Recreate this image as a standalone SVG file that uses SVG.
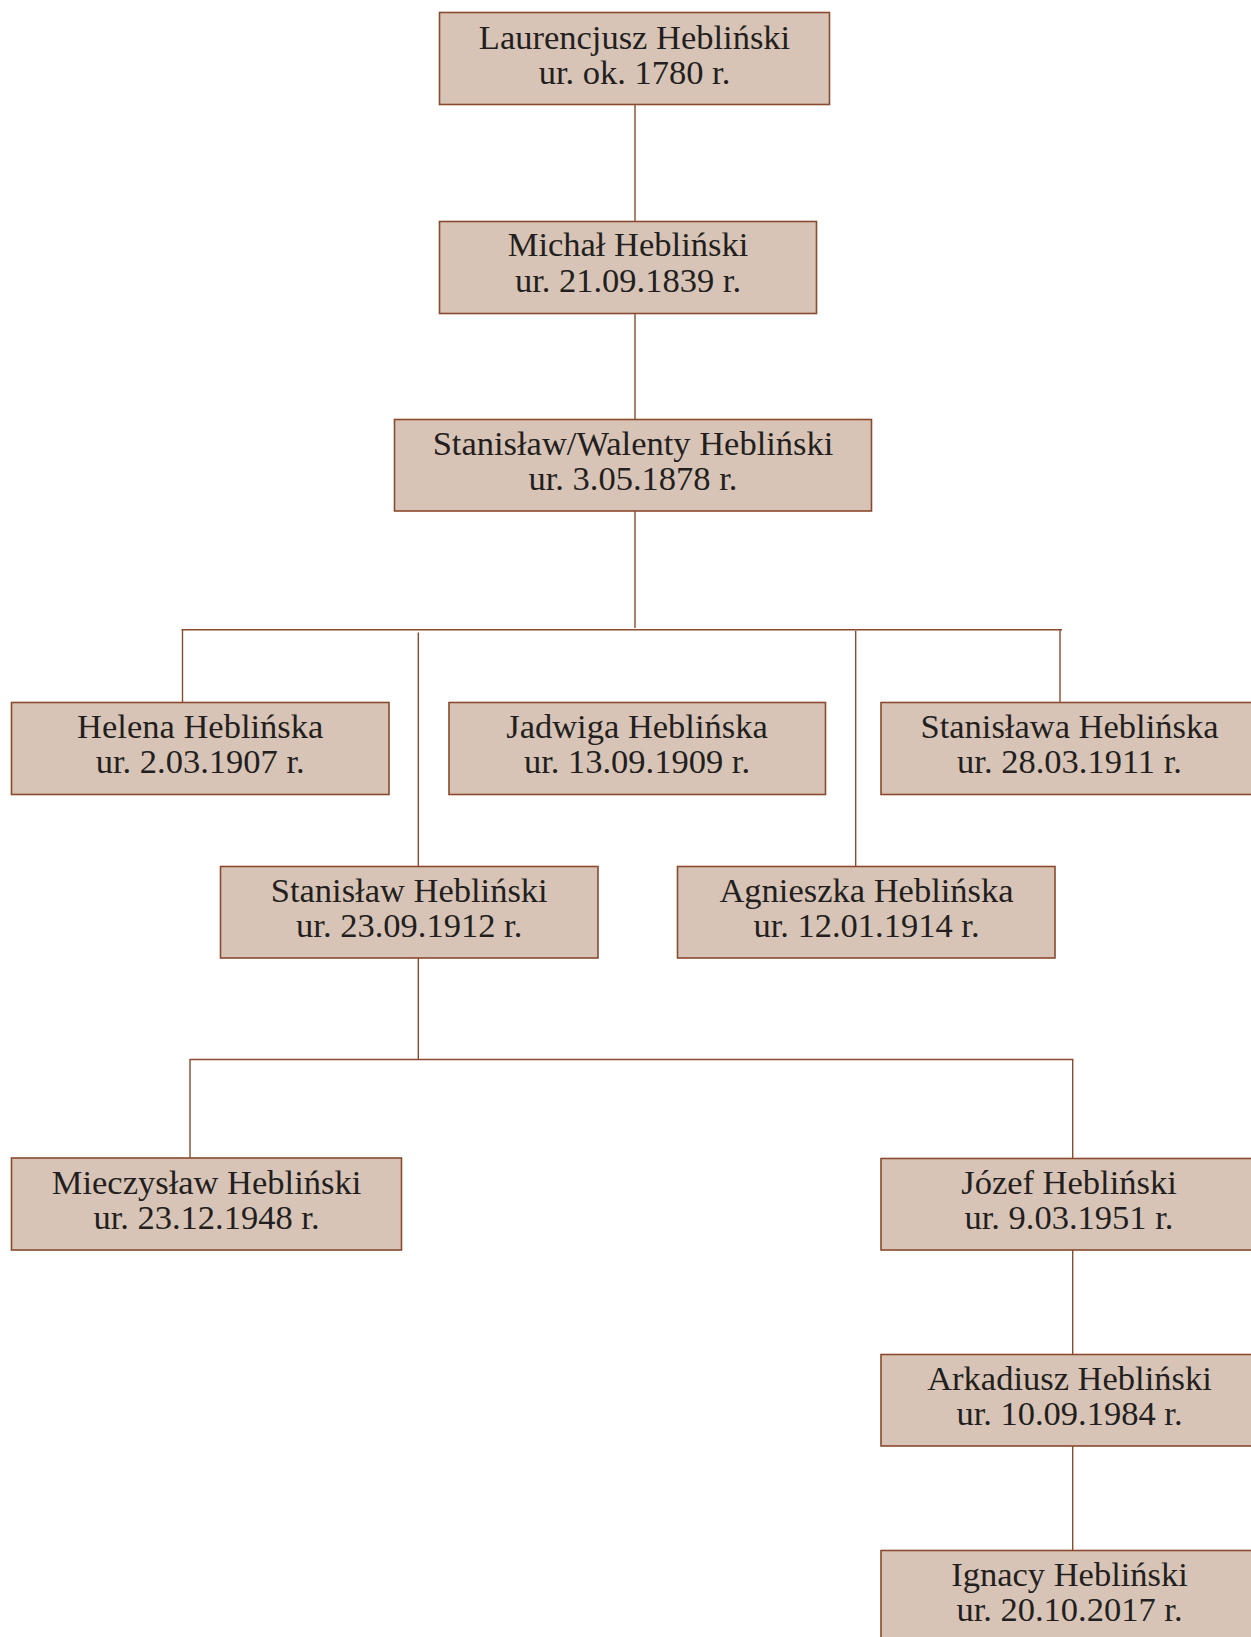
<svg xmlns="http://www.w3.org/2000/svg" width="1251" height="1637" viewBox="0 0 1251 1637">
<style>
.box{fill:#d8c4b6;stroke:#8a4a2e;stroke-width:1.6}
.t{font-family:"Liberation Serif","Times New Roman",serif;font-size:34.5px;fill:#231f20;text-anchor:middle}
.c{stroke:#8a4a2e;stroke-width:1.4;fill:none}
</style>
<rect width="1251" height="1637" fill="#ffffff"/>
<g id="connectors">
<line class="c" x1="635" y1="104.5" x2="635" y2="221.5"/>
<line class="c" x1="635" y1="313.5" x2="635" y2="419.5"/>
<line class="c" x1="635" y1="511" x2="635" y2="628"/>
<line class="c" x1="181.5" y1="629.7" x2="1062" y2="629.7"/>
<line class="c" x1="182.5" y1="630" x2="182.5" y2="702.5"/>
<line class="c" x1="418.3" y1="632.5" x2="418.3" y2="866.5"/>
<line class="c" x1="855.7" y1="630.7" x2="855.7" y2="866.5"/>
<line class="c" x1="1060" y1="630" x2="1060" y2="702.5"/>
<line class="c" x1="418.3" y1="958" x2="418.3" y2="1059.5"/>
<line class="c" x1="189.5" y1="1059.5" x2="1073.4" y2="1059.5"/>
<line class="c" x1="190" y1="1059.5" x2="190" y2="1158"/>
<line class="c" x1="1072.7" y1="1059.5" x2="1072.7" y2="1158.5"/>
<line class="c" x1="1072.7" y1="1250" x2="1072.7" y2="1354.5"/>
<line class="c" x1="1072.7" y1="1446" x2="1072.7" y2="1550.5"/>
</g>
<g id="laurencjusz">
<rect class="box" x="439.5" y="12.5" width="390" height="92"/>
<text class="t" x="634.5" y="48.5"><tspan x="634.5">Laurencjusz Hebliński</tspan><tspan x="634.5" y="83.5">ur. ok. 1780 r.</tspan></text>
</g>
<g id="michal">
<rect class="box" x="439.5" y="221.5" width="377" height="92"/>
<text class="t" x="628" y="256"><tspan x="628">Michał Hebliński</tspan><tspan x="628" y="291.5">ur. 21.09.1839 r.</tspan></text>
</g>
<g id="stanislaw-walenty">
<rect class="box" x="394.5" y="419.5" width="477" height="91.5"/>
<text class="t" x="633" y="455"><tspan x="633">Stanisław/Walenty Hebliński</tspan><tspan x="633" y="490">ur. 3.05.1878 r.</tspan></text>
</g>
<g id="helena">
<rect class="box" x="11.5" y="702.5" width="377.5" height="92"/>
<text class="t" x="200.2" y="738"><tspan x="200.2">Helena Heblińska</tspan><tspan x="200.2" y="773">ur. 2.03.1907 r.</tspan></text>
</g>
<g id="jadwiga">
<rect class="box" x="449" y="702.5" width="376.5" height="92"/>
<text class="t" x="637" y="738"><tspan x="637">Jadwiga Heblińska</tspan><tspan x="637" y="773">ur. 13.09.1909 r.</tspan></text>
</g>
<g id="stanislawa">
<rect class="box" x="881" y="702.5" width="377" height="92"/>
<text class="t" x="1069.5" y="738"><tspan x="1069.5">Stanisława Heblińska</tspan><tspan x="1069.5" y="773">ur. 28.03.1911 r.</tspan></text>
</g>
<g id="stanislaw">
<rect class="box" x="220.5" y="866.5" width="377.5" height="91.5"/>
<text class="t" x="409.2" y="902"><tspan x="409.2">Stanisław Hebliński</tspan><tspan x="409.2" y="937">ur. 23.09.1912 r.</tspan></text>
</g>
<g id="agnieszka">
<rect class="box" x="677.5" y="866.5" width="377.5" height="91.5"/>
<text class="t" x="866.5" y="902"><tspan x="866.5">Agnieszka Heblińska</tspan><tspan x="866.5" y="937">ur. 12.01.1914 r.</tspan></text>
</g>
<g id="mieczyslaw">
<rect class="box" x="11.5" y="1158" width="390" height="92"/>
<text class="t" x="206.5" y="1193.5"><tspan x="206.5">Mieczysław Hebliński</tspan><tspan x="206.5" y="1228.5">ur. 23.12.1948 r.</tspan></text>
</g>
<g id="jozef">
<rect class="box" x="881" y="1158.5" width="377" height="91.5"/>
<text class="t" x="1069" y="1194"><tspan x="1069">Józef Hebliński</tspan><tspan x="1069" y="1229">ur. 9.03.1951 r.</tspan></text>
</g>
<g id="arkadiusz">
<rect class="box" x="881" y="1354.5" width="377" height="91.5"/>
<text class="t" x="1069.5" y="1390"><tspan x="1069.5">Arkadiusz Hebliński</tspan><tspan x="1069.5" y="1425">ur. 10.09.1984 r.</tspan></text>
</g>
<g id="ignacy">
<rect class="box" x="881" y="1550.5" width="377" height="92"/>
<text class="t" x="1069.5" y="1586"><tspan x="1069.5">Ignacy Hebliński</tspan><tspan x="1069.5" y="1621">ur. 20.10.2017 r.</tspan></text>
</g>
</svg>
